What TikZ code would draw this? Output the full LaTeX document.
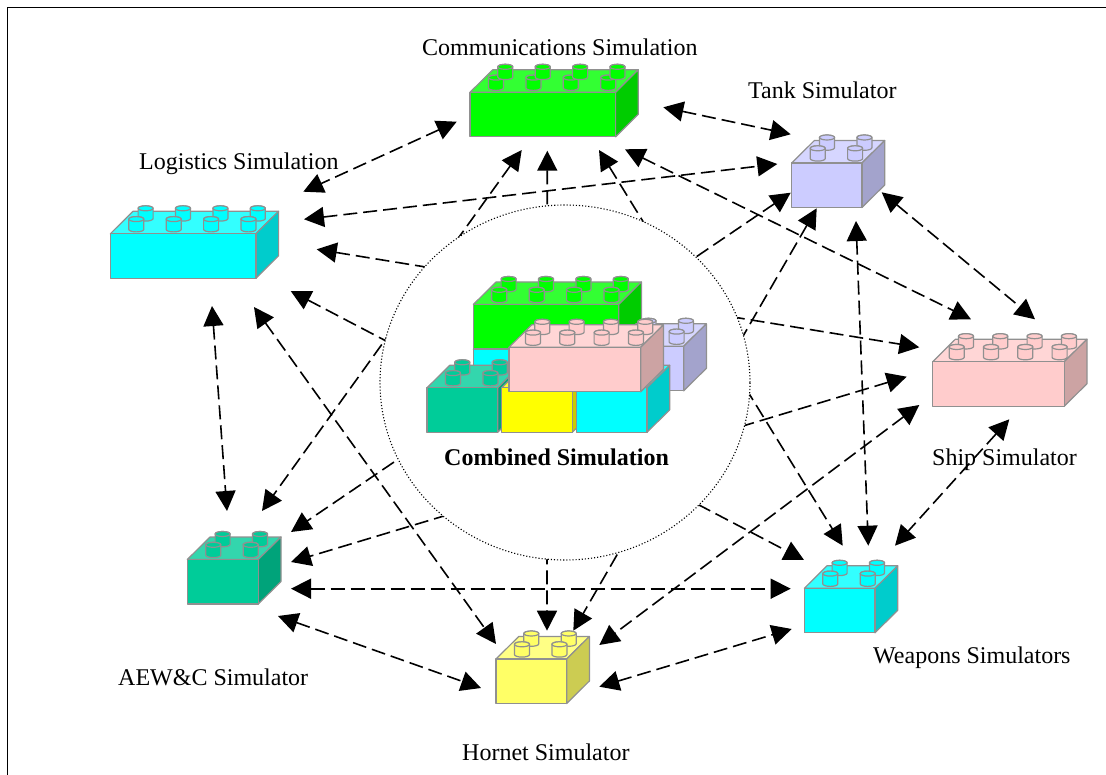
\documentclass[tikz,border=0pt]{standalone}
\usepackage{fontspec}
\setmainfont{Liberation Serif}
\usetikzlibrary{arrows.meta,shapes.geometric}
\definecolor{grnF}{HTML}{00FF00}\definecolor{grnT}{HTML}{33FF33}\definecolor{grnS}{HTML}{00CC00}
\definecolor{cyaF}{HTML}{00FFFF}\definecolor{cyaT}{HTML}{33FFFF}\definecolor{cyaS}{HTML}{00CCCC}
\definecolor{lavF}{HTML}{CCCCFF}\definecolor{lavT}{HTML}{D6D6FF}\definecolor{lavS}{HTML}{A3A3CC}
\definecolor{pnkF}{HTML}{FFCCCC}\definecolor{pnkT}{HTML}{FFD6D6}\definecolor{pnkS}{HTML}{CCA3A3}
\definecolor{teaF}{HTML}{00CC99}\definecolor{teaT}{HTML}{33D6AD}\definecolor{teaS}{HTML}{00A37A}
\definecolor{yelF}{HTML}{FFFF66}\definecolor{yelT}{HTML}{FFFF85}\definecolor{yelS}{HTML}{CCCC52}
\definecolor{yboF}{HTML}{FFFF00}\definecolor{yboT}{HTML}{FFFF33}\definecolor{yboS}{HTML}{CCCC00}
\definecolor{edgegrey}{HTML}{909090}
\tikzset{
  brickline/.style={draw=edgegrey,line width=1.2pt,line join=round},
  link/.style={line width=1.6pt,dash pattern=on 14pt off 6pt,{Triangle[length=20pt,width=20pt]}-{Triangle[length=20pt,width=20pt]}},
  hub/.style={ellipse,draw=black,fill=white,line width=1.1pt,dash pattern=on 1.1pt off 2pt,minimum width=370pt,minimum height=355pt,inner sep=0pt},
  caption/.style={anchor=base west,inner sep=0pt,font=\fontsize{24}{28}\selectfont},
  frameline/.style={line width=1.6pt,draw=black}
}
% one stud: centre x, top y, colour prefix
\newcommand\legostud[3]{%
  \path[brickline,fill=#3F] (#1-7.5,#2+2.5) -- (#1-7.5,#2+12.8)
     arc[start angle=180,end angle=360,x radius=7.5pt,y radius=2.5pt]
     -- (#1+7.5,#2+2.5) arc[start angle=0,end angle=180,x radius=7.5pt,y radius=2.5pt] -- cycle;
  \path[brickline,fill=#3F] (#1,#2+2.5) ellipse[x radius=7.5pt,y radius=2.5pt];}
% x, y of front top-left; width; studs per row; first stud x; spacing; colour; 1 = back row on top
\newcommand\legobrick[8]{%
  \begin{scope}[shift={(#1,#2)}]
    \path[brickline,fill=#7T] (0,0) -- (22.7,-22.5) -- (#3+22.7,-22.5) -- (#3,0) -- cycle;
    \path[brickline,fill=#7S] (#3,0) -- (#3+22.7,-22.5) -- (#3+22.7,22) -- (#3,44.5) -- cycle;
    \path[brickline,fill=#7F] (0,0) rectangle (#3,44.5);
    \ifnum#8=1
      \foreach \i in {1,...,#4}{\pgfmathsetmacro\sx{#5+(\i-1)*#6}\legostud{\sx}{-17.2}{#7}}
      \foreach \i in {1,...,#4}{\pgfmathsetmacro\sx{#5+9.3+(\i-1)*#6}\legostud{\sx}{-28}{#7}}
    \else
      \foreach \i in {1,...,#4}{\pgfmathsetmacro\sx{#5+9.3+(\i-1)*#6}\legostud{\sx}{-28}{#7}}
      \foreach \i in {1,...,#4}{\pgfmathsetmacro\sx{#5+(\i-1)*#6}\legostud{\sx}{-17.2}{#7}}
    \fi
  \end{scope}}
\begin{document}
\begin{tikzpicture}[x=1pt,y=-1pt]
\useasboundingbox (0,0) rectangle (1106,775);
\coordinate (fa) at (7.5,775);\coordinate (fb) at (7.5,7.5);\coordinate (fc) at (1106,7.5);
\draw[frameline] (fa) -- (fb) -- (fc);
% connector ends
\coordinate (c-l) at (456.7,121.7);\coordinate (c-t) at (663.3,107.3);\coordinate (c-s) at (625,149.3);
\coordinate (c-w) at (599,150);\coordinate (c-h) at (547.3,150.7);\coordinate (c-a) at (521.7,150);
\coordinate (t-c) at (790.7,134.3);\coordinate (t-l) at (777.3,164);\coordinate (t-a) at (790.7,192.7);
\coordinate (t-h) at (816.7,208.3);\coordinate (t-w) at (856,221);\coordinate (t-s) at (881.7,192.3);
\coordinate (s-t) at (1035,319.3);\coordinate (s-c) at (971,319.3);\coordinate (s-l) at (919.3,347.3);
\coordinate (s-a) at (906.7,376.7);\coordinate (s-h) at (919.3,405);\coordinate (s-w) at (1009.3,419.3);
\coordinate (w-s) at (895,545.7);\coordinate (w-t) at (868.3,545.7);\coordinate (w-c) at (842.7,545.7);
\coordinate (w-l) at (804,560);\coordinate (w-a) at (790.7,588.7);\coordinate (w-h) at (791.7,629);
\coordinate (h-c) at (547,630.7);\coordinate (h-t) at (573.3,630.7);\coordinate (h-s) at (599.3,645);
\coordinate (h-w) at (599.3,686.7);\coordinate (h-l) at (496,644);\coordinate (h-a) at (481,688);
\coordinate (l-c) at (303.3,191.7);\coordinate (l-t) at (304,219.3);\coordinate (l-s) at (316.7,249.3);
\coordinate (l-w) at (290.7,291);\coordinate (l-h) at (254,307);\coordinate (l-a) at (212,306);
\coordinate (a-t) at (291,532);\coordinate (a-s) at (291,562);\coordinate (a-w) at (291,588.7);
\coordinate (a-h) at (278,616);\coordinate (a-c) at (262,511);\coordinate (a-l) at (227,511);
% connectors
\draw[link] (c-l) -- (l-c);\draw[link] (c-t) -- (t-c);\draw[link] (l-t) -- (t-l);
\draw[link] (t-s) -- (s-t);\draw[link] (t-w) -- (w-t);\draw[link] (s-w) -- (w-s);
\draw[link] (c-s) -- (s-c);\draw[link] (l-h) -- (h-l);\draw[link] (l-a) -- (a-l);
\draw[link] (a-h) -- (h-a);\draw[link] (a-w) -- (w-a);\draw[link] (h-w) -- (w-h);
\draw[link] (s-h) -- (h-s);\draw[link] (c-a) -- (a-c);\draw[link] (c-w) -- (w-c);
\draw[link] (t-h) -- (h-t);\draw[link] (t-a) -- (a-t);\draw[link] (l-s) -- (s-l);
\draw[link] (s-a) -- (a-s);\draw[link] (l-w) -- (w-l);\draw[link] (c-h) -- (h-c);
% hub
\node[hub] (hubring) at (565,382.5) {};
% outer bricks
\legobrick{470}{92.3}{145.6}{4}{26}{37.4}{grn}{1}
\legobrick{110.3}{233.8}{145.6}{4}{26}{37.4}{cya}{0}
\legobrick{791.7}{163}{70.3}{2}{26}{37.4}{lav}{0}
\legobrick{932.7}{361.7}{131.6}{4}{24}{34.3}{pnk}{0}
\legobrick{187.3}{559.5}{71}{2}{26}{37.4}{tea}{0}
\legobrick{496}{659}{70.7}{2}{26}{37.4}{yel}{0}
\legobrick{804.3}{588.3}{70.7}{2}{26}{37.4}{cya}{0}
% combined stack
\legobrick{473.3}{349.5}{145.4}{4}{26}{37.4}{cya}{0}
\legobrick{473.3}{304.5}{145.4}{4}{26}{37.4}{grn}{0}
\legobrick{613.2}{346.3}{70.5}{2}{26}{37.4}{lav}{0}
\legobrick{427}{387.8}{70.7}{2}{26}{37.4}{tea}{0}
\legobrick{501.7}{387.8}{70.6}{2}{26}{37.4}{ybo}{0}
\legobrick{576.3}{387.8}{70.7}{2}{26}{37.4}{cya}{0}
\legobrick{509}{347.3}{131.7}{4}{24}{34.3}{pnk}{0}
% labels
\node[caption] (lcomm) at (422,55.5) {Communications Simulation};
\node[caption] (ltank) at (748,98.5) {Tank Simulator};
\node[caption] (llog) at (139,169.5) {Logistics Simulation};
\node[caption] (lship) at (932,465) {Ship Simulator};
\node[caption] (lweap) at (873,663) {Weapons Simulators};
\node[caption] (laew) at (118,685) {AEW\&C Simulator};
\node[caption] (lhorn) at (462,760) {Hornet Simulator};
\node[caption,font=\fontsize{24}{28}\selectfont\bfseries] (lcomb) at (444,465) {Combined Simulation};
\end{tikzpicture}
\end{document}
